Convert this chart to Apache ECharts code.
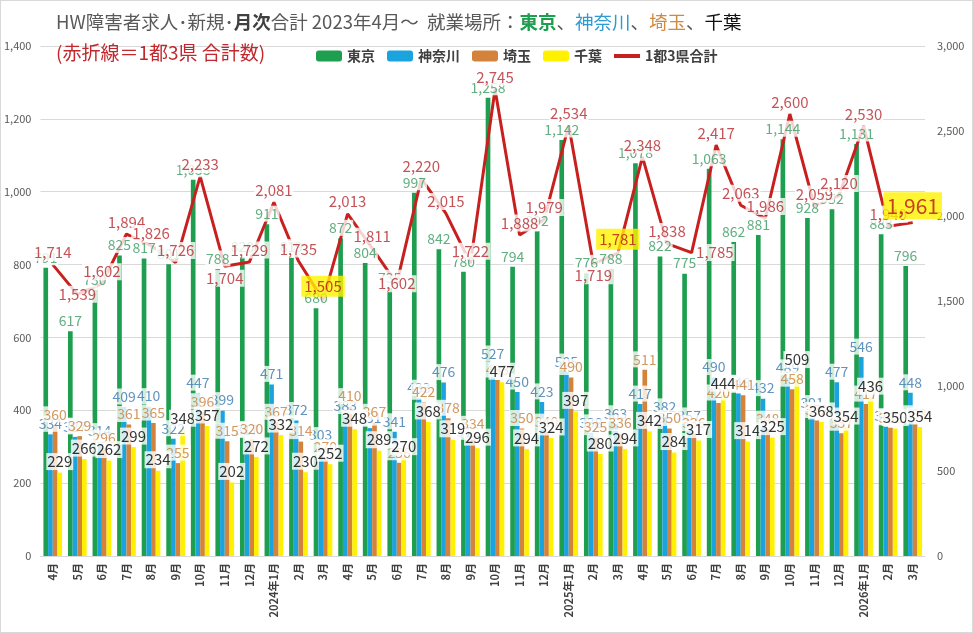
<!DOCTYPE html>
<html>
<head>
<meta charset="utf-8">
<title>HW障害者求人 月次合計</title>
<script src="https://cdn.jsdelivr.net/npm/echarts@6/dist/echarts.min.js"></script>
<style>
html, body { margin: 0; padding: 0; background: #fff; }
#main { width: 973px; height: 633px; box-sizing: border-box; border: 1px solid #d9d9d9; }
</style>
</head>
<body>
<div id="main"></div>
<script>
// 月 (2023年4月～2026年3月)
var months = ['4月', '5月', '6月', '7月', '8月', '9月', '10月', '11月', '12月',
    '2024年1月', '2月', '3月', '4月', '5月', '6月', '7月', '8月', '9月', '10月', '11月', '12月',
    '2025年1月', '2月', '3月', '4月', '5月', '6月', '7月', '8月', '9月', '10月', '11月', '12月',
    '2026年1月', '2月', '3月'];

var tokyo = [791, 617, 730, 825, 817, 801, 1033, 788, 820, 911, 819, 680, 872, 804, 735, 997, 842, 780,
    1258, 794, 892, 1142, 776, 788, 1078, 822, 775, 1063, 862, 881, 1144, 928, 952, 1131, 883, 796];
var kanagawa = [334, 327, 314, 409, 410, 322, 447, 399, 317, 471, 372, 303, 383, 351, 341, 433, 476, 312,
    527, 450, 423, 505, 338, 363, 417, 382, 357, 490, 446, 432, 489, 391, 477, 546, 355, 448];
var saitama = [360, 329, 296, 361, 365, 255, 396, 315, 320, 367, 314, 270, 410, 367, 256, 422, 378, 334,
    483, 350, 340, 490, 325, 336, 511, 350, 336, 420, 441, 348, 458, 372, 337, 417, 352, 363];
var chiba = [229, 266, 262, 299, 234, 348, 357, 202, 272, 332, 230, 252, 348, 289, 270, 368, 319, 296,
    477, 294, 324, 397, 280, 294, 342, 284, 317, 444, 314, 325, 509, 368, 354, 436, 350, 354];
// 1都3県合計
var totals = [1714, 1539, 1602, 1894, 1826, 1726, 2233, 1704, 1729, 2081, 1735, 1505, 2013, 1811, 1602, 2220, 2015, 1722,
    2745, 1888, 1979, 2534, 1719, 1781, 2348, 1838, 1785, 2417, 2063, 1986, 2600, 2059, 2120, 2530, 1940, 1961];

var leftTicks = [0, 1400, 200];   // min, max, interval
var rightTicks = [0, 3000, 500];

var FONT = 'Noto Sans CJK JP';
var gridLeft = 39, gridRight = 47, gridTop = 45, gridBottom = 76;
var catGap = 0.24;

// ラベル位置の例外 (合計の折線)
var totalPos = {1: 'inside', 7: 'bottom', 14: 'inside', 22: 'bottom', 26: 'right'};
// 黄色ハイライト
var highlight = {11: 15, 23: 15, 35: 21};

function fmt(v) {
    return String(v).replace(/\B(?=(\d{3})+(?!\d))/g, ',');
}

var myChart = echarts.init(document.getElementById('main'));
var catW = (myChart.getWidth() - gridLeft - gridRight) / months.length;
var barW = catW * (1 - catGap) / 4;

function barSeries(name, data, color) {
    return {
        name: name,
        type: 'bar',
        yAxisIndex: 0,
        data: data,
        barGap: '0%',
        barCategoryGap: (catGap * 100) + '%',
        itemStyle: {color: color},
        silent: true,
        z: 2
    };
}

// バーの上のラベル (白背景, 全系列の上に描く)
function labelSeries(data, k, color, size) {
    return {
        type: 'scatter',
        yAxisIndex: 0,
        data: data.map(function (v, i) { return [i, v]; }),
        symbolSize: 1,
        itemStyle: {color: 'transparent'},
        silent: true,
        z: 5,
        label: {
            show: true,
            position: 'top',
            distance: 2,
            offset: [(k - 1.5) * barW, 0],
            color: color,
            fontSize: size,
            fontFamily: FONT,
            backgroundColor: '#fff',
            padding: [1, 1],
            formatter: function (p) { return fmt(p.value[1]); }
        }
    };
}

var totalLabels = totals.map(function (v, i) {
    var item = {value: [i, v], label: {}};
    if (totalPos[i]) item.label.position = totalPos[i];
    if (highlight[i]) {
        item.label.backgroundColor = '#FFF200';
        item.label.fontSize = highlight[i];
        item.label.color = '#B8141C';
        item.label.padding = [3, 3];
    }
    return item;
});

var T = {fontSize: 18.5, fontFamily: FONT, fontWeight: 'normal'};
var option = {
    animation: false,
    textStyle: {fontFamily: FONT},
    title: [{
        left: 50,
        top: 7,
        text: '{a|HW障害者求人･新規･}{b|月次}{a|合計 2023年4月～  就業場所：}{g|東京}{a|、}{k|神奈川}{a|、}{s|埼玉}{a|、}{c|千葉}',
        textStyle: {
            fontWeight: 'normal',
            rich: {
                a: Object.assign({color: '#595959'}, T),
                b: Object.assign({}, T, {color: '#404040', fontWeight: 'bold'}),
                g: Object.assign({}, T, {color: '#1E9E4F', fontWeight: 'bold'}),
                k: Object.assign({color: '#2E9AD0'}, T),
                s: Object.assign({color: '#D08A3C'}, T),
                c: Object.assign({color: '#111'}, T)
            }
        }
    }, {
        left: 50,
        top: 37,
        text: '(赤折線＝1都3県 合計数)',
        textStyle: {fontSize: 19, color: '#C0282D', fontWeight: 'normal', fontFamily: FONT}
    }],
    legend: {
        data: ['東京', '神奈川', '埼玉', '千葉',
            {name: '1都3県合計', icon: 'path://M0,0 L26,0 L26,4 L0,4 Z'}],
        left: 310,
        top: 43,
        itemWidth: 26,
        itemHeight: 11,
        itemGap: 12,
        selectedMode: false,
        textStyle: {fontSize: 14, fontWeight: 'bold', color: '#404040', fontFamily: FONT}
    },
    grid: {left: gridLeft, right: gridRight, top: gridTop, bottom: gridBottom},
    xAxis: {
        type: 'category',
        data: months,
        axisTick: {show: false},
        axisLine: {lineStyle: {color: '#d9d9d9'}},
        axisLabel: {interval: 0, rotate: 90, fontSize: 11, fontWeight: 'bold', color: '#404040', margin: 7, fontFamily: FONT}
    },
    yAxis: [{
        type: 'value',
        min: leftTicks[0], max: leftTicks[1], interval: leftTicks[2],
        axisLine: {show: false},
        axisTick: {show: false},
        splitLine: {lineStyle: {color: '#d9d9d9'}},
        axisLabel: {formatter: fmt, fontSize: 11, color: '#595959', margin: 9}
    }, {
        type: 'value',
        position: 'right',
        min: rightTicks[0], max: rightTicks[1], interval: rightTicks[2],
        axisLine: {show: false},
        axisTick: {show: false},
        splitLine: {show: false},
        axisLabel: {formatter: fmt, fontSize: 11, color: '#595959', margin: 12}
    }],
    series: [
        barSeries('東京', tokyo, '#1E9E4F'),
        barSeries('神奈川', kanagawa, '#1AA3DD'),
        barSeries('埼玉', saitama, '#D3833B'),
        barSeries('千葉', chiba, '#FFF100'),
        {
            name: '1都3県合計',
            type: 'line',
            yAxisIndex: 1,
            data: totals,
            symbol: 'none',
            lineStyle: {color: '#C8201E', width: 3},
            itemStyle: {color: '#C8201E'},
            silent: true,
            z: 3
        },
        labelSeries(tokyo, 0, '#3A9A60', 14),
        labelSeries(kanagawa, 1, '#3A78B0', 14),
        labelSeries(saitama, 2, '#C8803A', 14),
        labelSeries(chiba, 3, '#000', 15),
        {
            type: 'scatter',
            yAxisIndex: 1,
            data: totalLabels,
            symbolSize: 1,
            itemStyle: {color: 'transparent'},
            silent: true,
            z: 6,
            label: {
                show: true,
                position: 'top',
                distance: 3,
                color: '#B5282D',
                fontSize: 15,
                fontFamily: FONT,
                backgroundColor: '#fff',
                padding: [1, 1],
                formatter: function (p) { return fmt(p.value[1]); }
            }
        }
    ]
};

myChart.setOption(option);
</script>
</body>
</html>
